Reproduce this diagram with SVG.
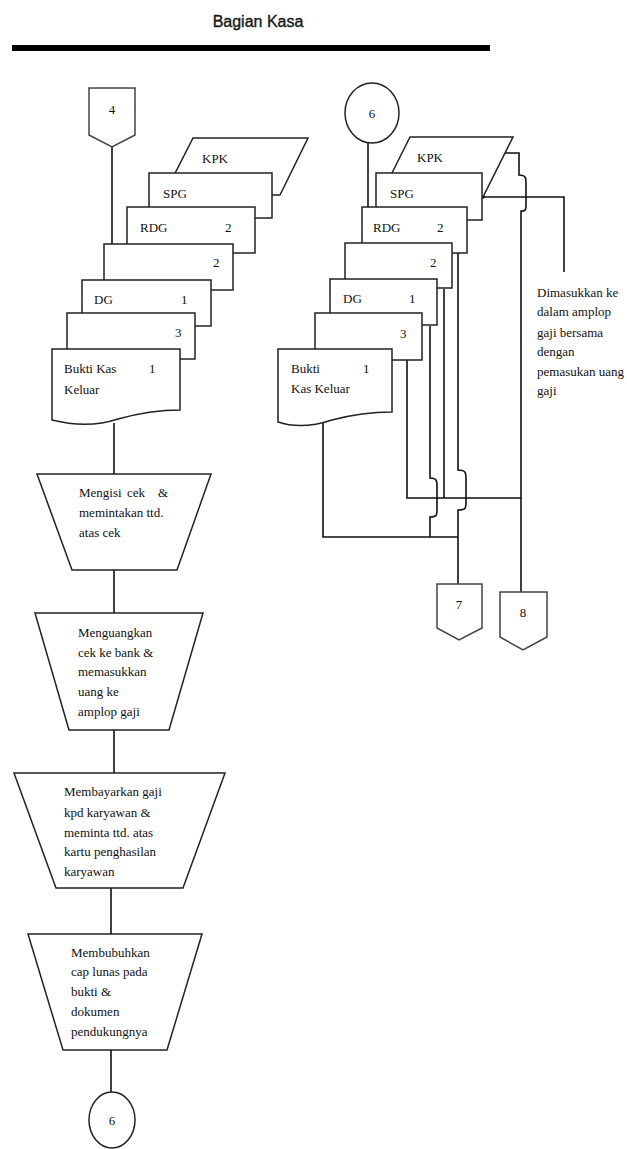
<svg xmlns="http://www.w3.org/2000/svg" width="627" height="1149" viewBox="0 0 627 1149">
  <style>
    .shape { fill: #fff; stroke: #222; stroke-width: 1.5; }
    .conn { fill: none; stroke: #111; stroke-width: 1.6; }
    .off { fill: #fff; stroke: #444; stroke-width: 1.5; }
    .t { font-family: "Liberation Serif", "Times New Roman", serif; font-size: 13px; fill: #111; }
    .c { text-anchor: middle; }
    .title { font-family: "Liberation Sans", Arial, sans-serif; font-size: 16px; fill: #1a1a1a; stroke: #1a1a1a; stroke-width: 0.4; text-anchor: middle; }
  </style>
  <rect width="627" height="1149" fill="#fff"/>

  <!-- header -->
  <g id="header">
    <text class="title" x="258" y="27">Bagian Kasa</text>
    <rect x="12" y="45" width="478" height="6" fill="#000"/>
  </g>

  <!-- connectors -->
  <g id="connectors">
    <!-- left column -->
    <path class="conn" d="M112,147 V244"/>
    <path class="conn" d="M114,423 V474"/>
    <path class="conn" d="M114,570 V613"/>
    <path class="conn" d="M114,730 V773"/>
    <path class="conn" d="M111,888 V934"/>
    <path class="conn" d="M111,1050 V1092"/>
    <!-- right column -->
    <path class="conn" d="M368,143 V207"/>
    <path class="conn" d="M323,419 V537 H458"/>
    <path class="conn" d="M407,360 V498 H521"/>
    <path class="conn" d="M430,326 V478 C437,478 437,481 437,487 V509 C437,515 437,517 430,517 V537"/>
    <path class="conn" d="M444,289 V498"/>
    <path class="conn" d="M458,253 V470 C466,470 466,473 466,479 V502 C466,508 466,510 458,510 V584"/>
    <path class="conn" d="M483,197 H564 V272"/>
    <path class="conn" d="M505,153 H519 V175 C526,175 526,178 526,184 V204 C526,210 526,211 521,211 V592"/>
    <circle cx="483" cy="197" r="1.8" fill="#111"/>
  </g>

  <!-- left: off-page connector 4 -->
  <g id="off4">
    <path class="off" d="M89,88 H135 V135 L112,147 L89,135 Z"/>
    <text class="t c" x="112" y="114">4</text>
  </g>

  <!-- left document stack -->
  <g id="l-kpk">
    <polygon class="shape" points="193,138 308,138 280,195 164,195"/>
    <text class="t" x="202" y="163">KPK</text>
  </g>
  <g id="l-spg">
    <rect class="shape" x="149" y="173" width="123" height="45"/>
    <text class="t" x="163" y="198">SPG</text>
  </g>
  <g id="l-rdg">
    <rect class="shape" x="127" y="207" width="128" height="46"/>
    <text class="t" x="140" y="232">RDG</text>
    <text class="t" x="225" y="232">2</text>
  </g>
  <g id="l-doc2">
    <rect class="shape" x="104" y="244" width="129" height="46"/>
    <text class="t" x="213" y="267">2</text>
  </g>
  <g id="l-dg">
    <rect class="shape" x="82" y="280" width="129" height="46"/>
    <text class="t" x="94" y="304">DG</text>
    <text class="t" x="181" y="304">1</text>
  </g>
  <g id="l-doc3">
    <rect class="shape" x="67" y="313" width="128" height="46"/>
    <text class="t" x="175" y="337">3</text>
  </g>
  <g id="l-bkk">
    <path class="shape" d="M52,349 H180 V410 Q150,410 118,419 Q88,429 52,420 Z"/>
    <text class="t" x="64" y="373">Bukti Kas</text>
    <text class="t" x="149" y="373">1</text>
    <text class="t" x="64" y="394">Keluar</text>
  </g>

  <!-- left process steps -->
  <g id="step1">
    <polygon class="shape" points="37,474 211,474 177,570 72,570"/>
    <text class="t" y="497"><tspan x="79">Mengisi</tspan><tspan x="127">cek</tspan><tspan x="158">&amp;</tspan></text>
    <text class="t" x="79" y="517">memintakan ttd.</text>
    <text class="t" x="79" y="537">atas cek</text>
  </g>
  <g id="step2">
    <polygon class="shape" points="35,613 203,613 169,730 69,730"/>
    <text class="t" x="78" y="637">Menguangkan</text>
    <text class="t" x="78" y="657">cek ke bank &amp;</text>
    <text class="t" x="78" y="676">memasukkan</text>
    <text class="t" x="78" y="696">uang ke</text>
    <text class="t" x="78" y="716">amplop gaji</text>
  </g>
  <g id="step3">
    <polygon class="shape" points="14,773 225,773 183,888 56,888"/>
    <text class="t" x="64" y="796">Membayarkan gaji</text>
    <text class="t" x="64" y="817">kpd karyawan &amp;</text>
    <text class="t" x="64" y="837">meminta ttd. atas</text>
    <text class="t" x="64" y="856">kartu penghasilan</text>
    <text class="t" x="64" y="876">karyawan</text>
  </g>
  <g id="step4">
    <polygon class="shape" points="28,934 202,934 167,1050 63,1050"/>
    <text class="t" x="71" y="957">Membubuhkan</text>
    <text class="t" x="71" y="976">cap lunas pada</text>
    <text class="t" x="71" y="996">bukti &amp;</text>
    <text class="t" x="71" y="1016">dokumen</text>
    <text class="t" x="71" y="1036">pendukungnya</text>
  </g>
  <g id="conn6-out">
    <ellipse class="shape" cx="112" cy="1120" rx="23" ry="28"/>
    <text class="t c" x="112" y="1125">6</text>
  </g>

  <!-- right column -->
  <g id="conn6-in">
    <ellipse class="shape" cx="372" cy="113" rx="27" ry="30"/>
    <text class="t c" x="372" y="118">6</text>
  </g>
  <g id="r-kpk">
    <polygon class="shape" points="410,137 513,137 483,197 380,197"/>
    <text class="t" x="417" y="162">KPK</text>
  </g>
  <g id="r-spg">
    <rect class="shape" x="376" y="173" width="106" height="47"/>
    <text class="t" x="390" y="198">SPG</text>
  </g>
  <g id="r-rdg">
    <rect class="shape" x="362" y="207" width="105" height="46"/>
    <text class="t" x="373" y="232">RDG</text>
    <text class="t" x="437" y="232">2</text>
  </g>
  <g id="r-doc2">
    <rect class="shape" x="345" y="243" width="107" height="45"/>
    <text class="t" x="430" y="267">2</text>
  </g>
  <g id="r-dg">
    <rect class="shape" x="330" y="279" width="107" height="46"/>
    <text class="t" x="343" y="303">DG</text>
    <text class="t" x="409" y="303">1</text>
  </g>
  <g id="r-doc3">
    <rect class="shape" x="315" y="313" width="107" height="47"/>
    <text class="t" x="400" y="338">3</text>
  </g>
  <g id="r-bkk">
    <path class="shape" d="M278,349 H392 V412 Q362,412 332,420 Q302,430 278,422 Z"/>
    <text class="t" x="291" y="373">Bukti</text>
    <text class="t" x="363" y="373">1</text>
    <text class="t" x="291" y="393">Kas Keluar</text>
  </g>

  <g id="note">
    <text class="t" x="537" y="297">Dimasukkan ke</text>
    <text class="t" x="537" y="316">dalam amplop</text>
    <text class="t" x="537" y="337">gaji bersama</text>
    <text class="t" x="537" y="356">dengan</text>
    <text class="t" x="537" y="376">pemasukan uang</text>
    <text class="t" x="537" y="395">gaji</text>
  </g>

  <g id="off7">
    <path class="off" d="M437,584 H482 V628 L459,640 L437,628 Z"/>
    <text class="t c" x="459" y="609">7</text>
  </g>
  <g id="off8">
    <path class="off" d="M500,592 H547 V637 L523,650 L500,637 Z"/>
    <text class="t c" x="523" y="617">8</text>
  </g>
</svg>
